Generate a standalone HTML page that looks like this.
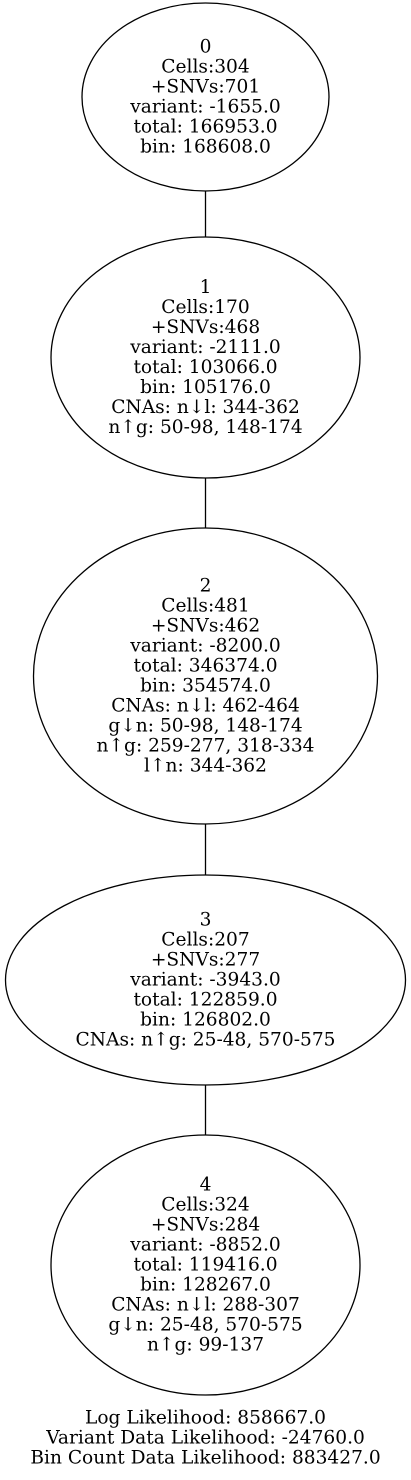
<!DOCTYPE html>
<html><head><meta charset="utf-8"><style>
html,body{margin:0;padding:0;background:#fff}
text{font-family:"DejaVu Serif","Liberation Serif",serif;font-size:18.6px;fill:#000;text-anchor:middle;dominant-baseline:central}
</style></head><body>
<svg width="411" height="1475" viewBox="0 0 411 1475" xmlns="http://www.w3.org/2000/svg">
<g fill="none" stroke="#000" stroke-width="1.3">
<ellipse cx="205.5" cy="97" rx="123.5" ry="94"/>
<ellipse cx="205.5" cy="357.5" rx="154.5" ry="120.5"/>
<ellipse cx="205.5" cy="676" rx="172" ry="148"/>
<ellipse cx="205.5" cy="980" rx="200" ry="105"/>
<ellipse cx="205.5" cy="1265" rx="154.5" ry="130"/>
<line x1="205.5" y1="191" x2="205.5" y2="237"/>
<line x1="205.5" y1="478" x2="205.5" y2="528"/>
<line x1="205.5" y1="824" x2="205.5" y2="875"/>
<line x1="205.5" y1="1085" x2="205.5" y2="1135"/>
</g>
<text x="205.5" y="47">0</text>
<text x="205.5" y="67">Cells:304</text>
<text x="205.5" y="87">+SNVs:701</text>
<text x="205.5" y="107">variant: -1655.0</text>
<text x="205.5" y="127">total: 166953.0</text>
<text x="205.5" y="147">bin: 168608.0</text>

<text x="205.5" y="287.5">1</text>
<text x="205.5" y="307.5">Cells:170</text>
<text x="205.5" y="327.5">+SNVs:468</text>
<text x="205.5" y="347.5">variant: -2111.0</text>
<text x="205.5" y="367.5">total: 103066.0</text>
<text x="205.5" y="387.5">bin: 105176.0</text>
<text x="205.5" y="407.5">CNAs: n↓l: 344-362</text>
<text x="205.5" y="427.5">n↑g: 50-98, 148-174</text>

<text x="205.5" y="586">2</text>
<text x="205.5" y="606">Cells:481</text>
<text x="205.5" y="626">+SNVs:462</text>
<text x="205.5" y="646">variant: -8200.0</text>
<text x="205.5" y="666">total: 346374.0</text>
<text x="205.5" y="686">bin: 354574.0</text>
<text x="205.5" y="706">CNAs: n↓l: 462-464</text>
<text x="205.5" y="726">g↓n: 50-98, 148-174</text>
<text x="205.5" y="746">n↑g: 259-277, 318-334</text>
<text x="205.5" y="766">l↑n: 344-362</text>

<text x="205.5" y="920">3</text>
<text x="205.5" y="940">Cells:207</text>
<text x="205.5" y="960">+SNVs:277</text>
<text x="205.5" y="980">variant: -3943.0</text>
<text x="205.5" y="1000">total: 122859.0</text>
<text x="205.5" y="1020">bin: 126802.0</text>
<text x="205.5" y="1040">CNAs: n↑g: 25-48, 570-575</text>

<text x="205.5" y="1185">4</text>
<text x="205.5" y="1205">Cells:324</text>
<text x="205.5" y="1225">+SNVs:284</text>
<text x="205.5" y="1245">variant: -8852.0</text>
<text x="205.5" y="1265">total: 119416.0</text>
<text x="205.5" y="1285">bin: 128267.0</text>
<text x="205.5" y="1305">CNAs: n↓l: 288-307</text>
<text x="205.5" y="1325">g↓n: 25-48, 570-575</text>
<text x="205.5" y="1345">n↑g: 99-137</text>

<text x="205.5" y="1418">Log Likelihood: 858667.0</text>
<text x="205.5" y="1438">Variant Data Likelihood: -24760.0</text>
<text x="205.5" y="1458">Bin Count Data Likelihood: 883427.0</text>
</svg>
</body></html>
